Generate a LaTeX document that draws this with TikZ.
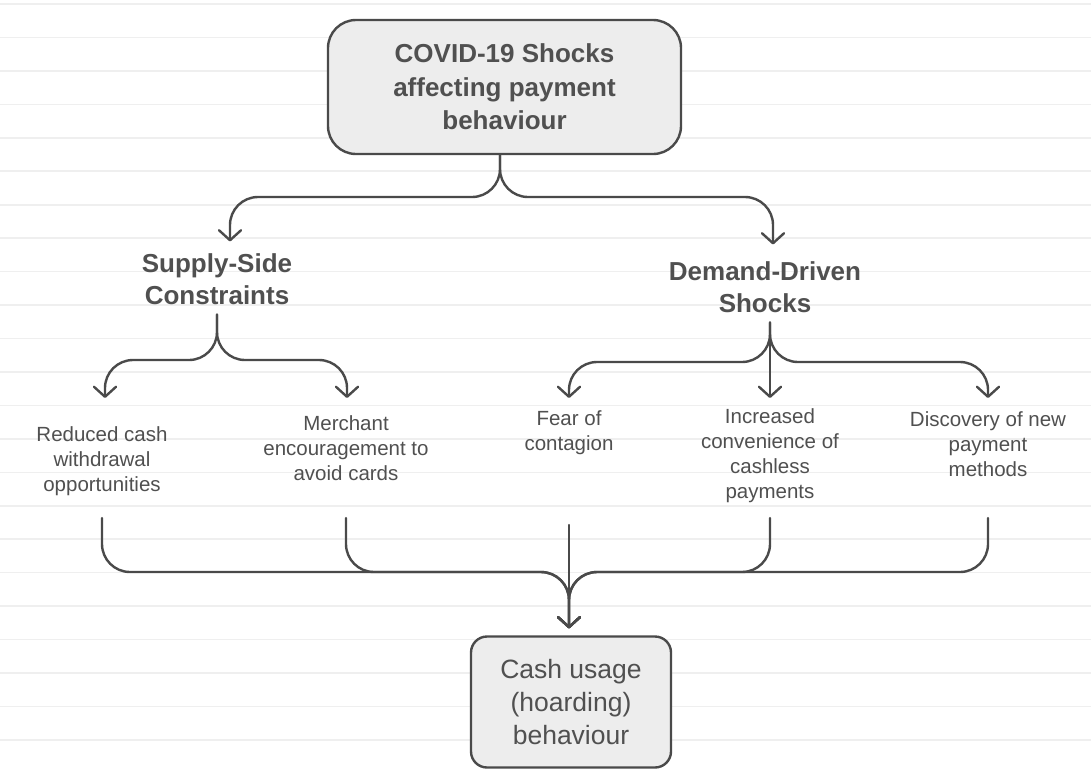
\documentclass[tikz,border=0pt]{standalone}
\usepackage{fontspec}
\setmainfont{Liberation Sans}
\usetikzlibrary{arrows.meta}
\definecolor{ink}{HTML}{4A4A4A}
\definecolor{inktext}{HTML}{505050}
\definecolor{boxgray}{HTML}{EDEDED}
\definecolor{ruling}{HTML}{EFEFEF}

\begin{document}
\begin{tikzpicture}[x=1pt,y=-1pt,
    shockbox/.style={draw=ink,fill=boxgray,line width=2.4pt,rounded corners=28pt,align=center,inner sep=0pt,text=inktext,font=\fontsize{26}{33.5}\selectfont\bfseries},
    headline/.style={align=center,inner sep=0pt,outer sep=10pt,text=inktext,font=\fontsize{26}{32}\selectfont\bfseries},
    leaf/.style={align=center,inner sep=0pt,text=inktext,font=\fontsize{20.5}{25}\selectfont},
    link/.style={draw=ink,line width=2.4pt,line cap=round,rounded corners=28pt,-{Straight Barb[length=10pt,width=22pt,round]}}]
    \useasboundingbox (0,0) rectangle (1091,772);
    \fill[white] (0,0) rectangle (1091,772);
    \foreach \k in {0,...,23}{
        \pgfmathsetmacro{\ruleY}{4+33.45*\k};
        \draw[ruling,line width=1.6pt] (0,\ruleY) -- (1091,\ruleY);
    }
    \node[shockbox,minimum width=353,minimum height=134] (top) at (504.5,87) {COVID-19 Shocks\\affecting payment\\behaviour};
    \node[headline] (supply) at (217,279) {Supply-Side\\Constraints};
    \node[headline] (demand) at (765,287) {Demand-Driven\\Shocks};
    \node[leaf] (reduced) at (102,461) {Reduced cash\\withdrawal\\opportunities};
    \node[leaf] (merchant) at (346,448) {Merchant\\encouragement to\\avoid cards};
    \node[leaf] (fear) at (569,433) {Fear of\\contagion};
    \node[leaf] (increased) at (770,456) {Increased\\convenience of\\cashless\\payments};
    \node[leaf] (discovery) at (988,444) {Discovery of new\\payment\\methods};
    \node[shockbox,font=\fontsize{26.5}{33}\selectfont,rounded corners=16pt,minimum width=200,minimum height=131] (cash) at (571,702) {Cash usage\\(hoarding)\\behaviour};

    \coordinate (topfork) at (500,197);
    \coordinate (supfork) at (217,360);
    \coordinate (demfork) at (770,362);
    \coordinate (tips) at (0,398);
    \coordinate (base) at (0,518);
    \coordinate (merge) at (569,572);

    \draw[link] ([xshift=-4.5pt]top.south) -- (topfork) -| ([xshift=13pt,yshift=2pt]supply.north);
    \draw[link] ([xshift=-4.5pt]top.south) -- (topfork) -| ([xshift=8pt,yshift=7pt]demand.north);
    \draw[link] (supply.south) -- (supfork) -| ([xshift=3pt]reduced.north |- tips);
    \draw[link] (supply.south) -- (supfork) -| ([xshift=1pt]merchant.north |- tips);
    \foreach \leaf in {fear,increased,discovery}
        \draw[link] ([xshift=5pt]demand.south) -- (demfork) -| (\leaf.north |- tips);
    \foreach \leaf in {reduced,merchant,increased,discovery}
        \draw[link,shorten >=7pt] (\leaf.south |- base) |- (merge) -- (cash.north -| merge);
    \draw[link,shorten <=7pt,shorten >=7pt] (fear.south |- base) -- (cash.north -| merge);
\end{tikzpicture}
\end{document}
